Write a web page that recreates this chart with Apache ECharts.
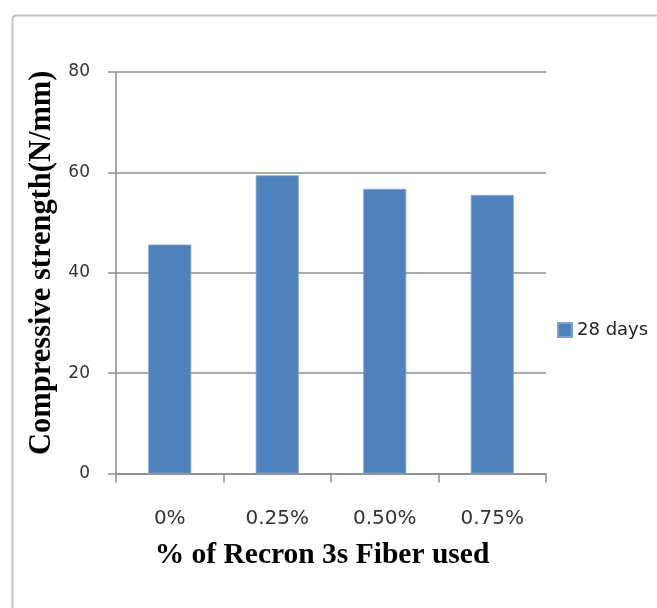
<!DOCTYPE html>
<html><head><meta charset="utf-8">
<script src="https://cdn.jsdelivr.net/npm/echarts@6/dist/echarts.min.js"></script>
<style>html,body{margin:0;padding:0;background:#fff;}#c{width:657px;height:608px;}</style>
</head><body><div id="c"></div>
<script>
var categories = ['0%', '0.25%', '0.50%', '0.75%'];
var seriesName = '28 days';
var values = [45.6, 59.4, 56.7, 55.5];
var yTicks = { min: 0, max: 80, interval: 20 };

var chart = echarts.init(document.getElementById('c'), null, {renderer: 'canvas'});
chart.setOption({
  animation: false,
  backgroundColor: '#fff',
  graphic: [{
    type: 'rect', left: 10, top: 13, z: -1,
    shape: { width: 700, height: 700, r: 4 },
    style: { fill: 'none', stroke: '#c4c4c4', lineWidth: 2 }
  }],
  grid: { left: 116, top: 72, right: 111, bottom: 134.5 },
  legend: {
    data: [seriesName], left: 557, top: 321, padding: 0,
    icon: 'rect', itemWidth: 14, itemHeight: 14,
    textStyle: { fontFamily: 'DejaVu Sans', fontSize: 18, color: '#222' }
  },
  xAxis: {
    type: 'category', data: categories,
    name: '% of Recron 3s Fiber used', nameLocation: 'middle', nameGap: 67,
    nameTextStyle: { fontFamily: 'Liberation Serif', fontWeight: 'bold', fontSize: 29.5, color: '#000', padding: [0, 18, 0, 0] },
    axisLine: { lineStyle: { color: '#8c8c8c', width: 1.5 } },
    axisTick: { show: true, length: 9, lineStyle: { color: '#8c8c8c', width: 1.5 } },
    axisLabel: { margin: 35, fontFamily: 'DejaVu Sans', fontSize: 20, color: '#333' }
  },
  yAxis: {
    type: 'value', min: yTicks.min, max: yTicks.max, interval: yTicks.interval,
    name: 'Compressive strength(N/mm)', nameLocation: 'middle', nameGap: 57,
    nameTextStyle: { fontFamily: 'Liberation Serif', fontWeight: 'bold', fontSize: 30.5, color: '#000', padding: [0, 0, 0, 20] },
    axisLine: { show: true, lineStyle: { color: '#8c8c8c', width: 1.5 } },
    axisTick: { show: true, length: 8, lineStyle: { color: '#8c8c8c', width: 1.5 } },
    axisLabel: { margin: 26, fontFamily: 'DejaVu Sans', fontSize: 17, color: '#333' },
    splitLine: { lineStyle: { color: '#8c8c8c', width: 1.5 } }
  },
  series: [{
    name: seriesName, type: 'bar', data: values, barWidth: 43,
    itemStyle: { color: '#4F81BD', borderColor: '#7fa3d0', borderWidth: 0.8 }
  }]
});
</script></body></html>
